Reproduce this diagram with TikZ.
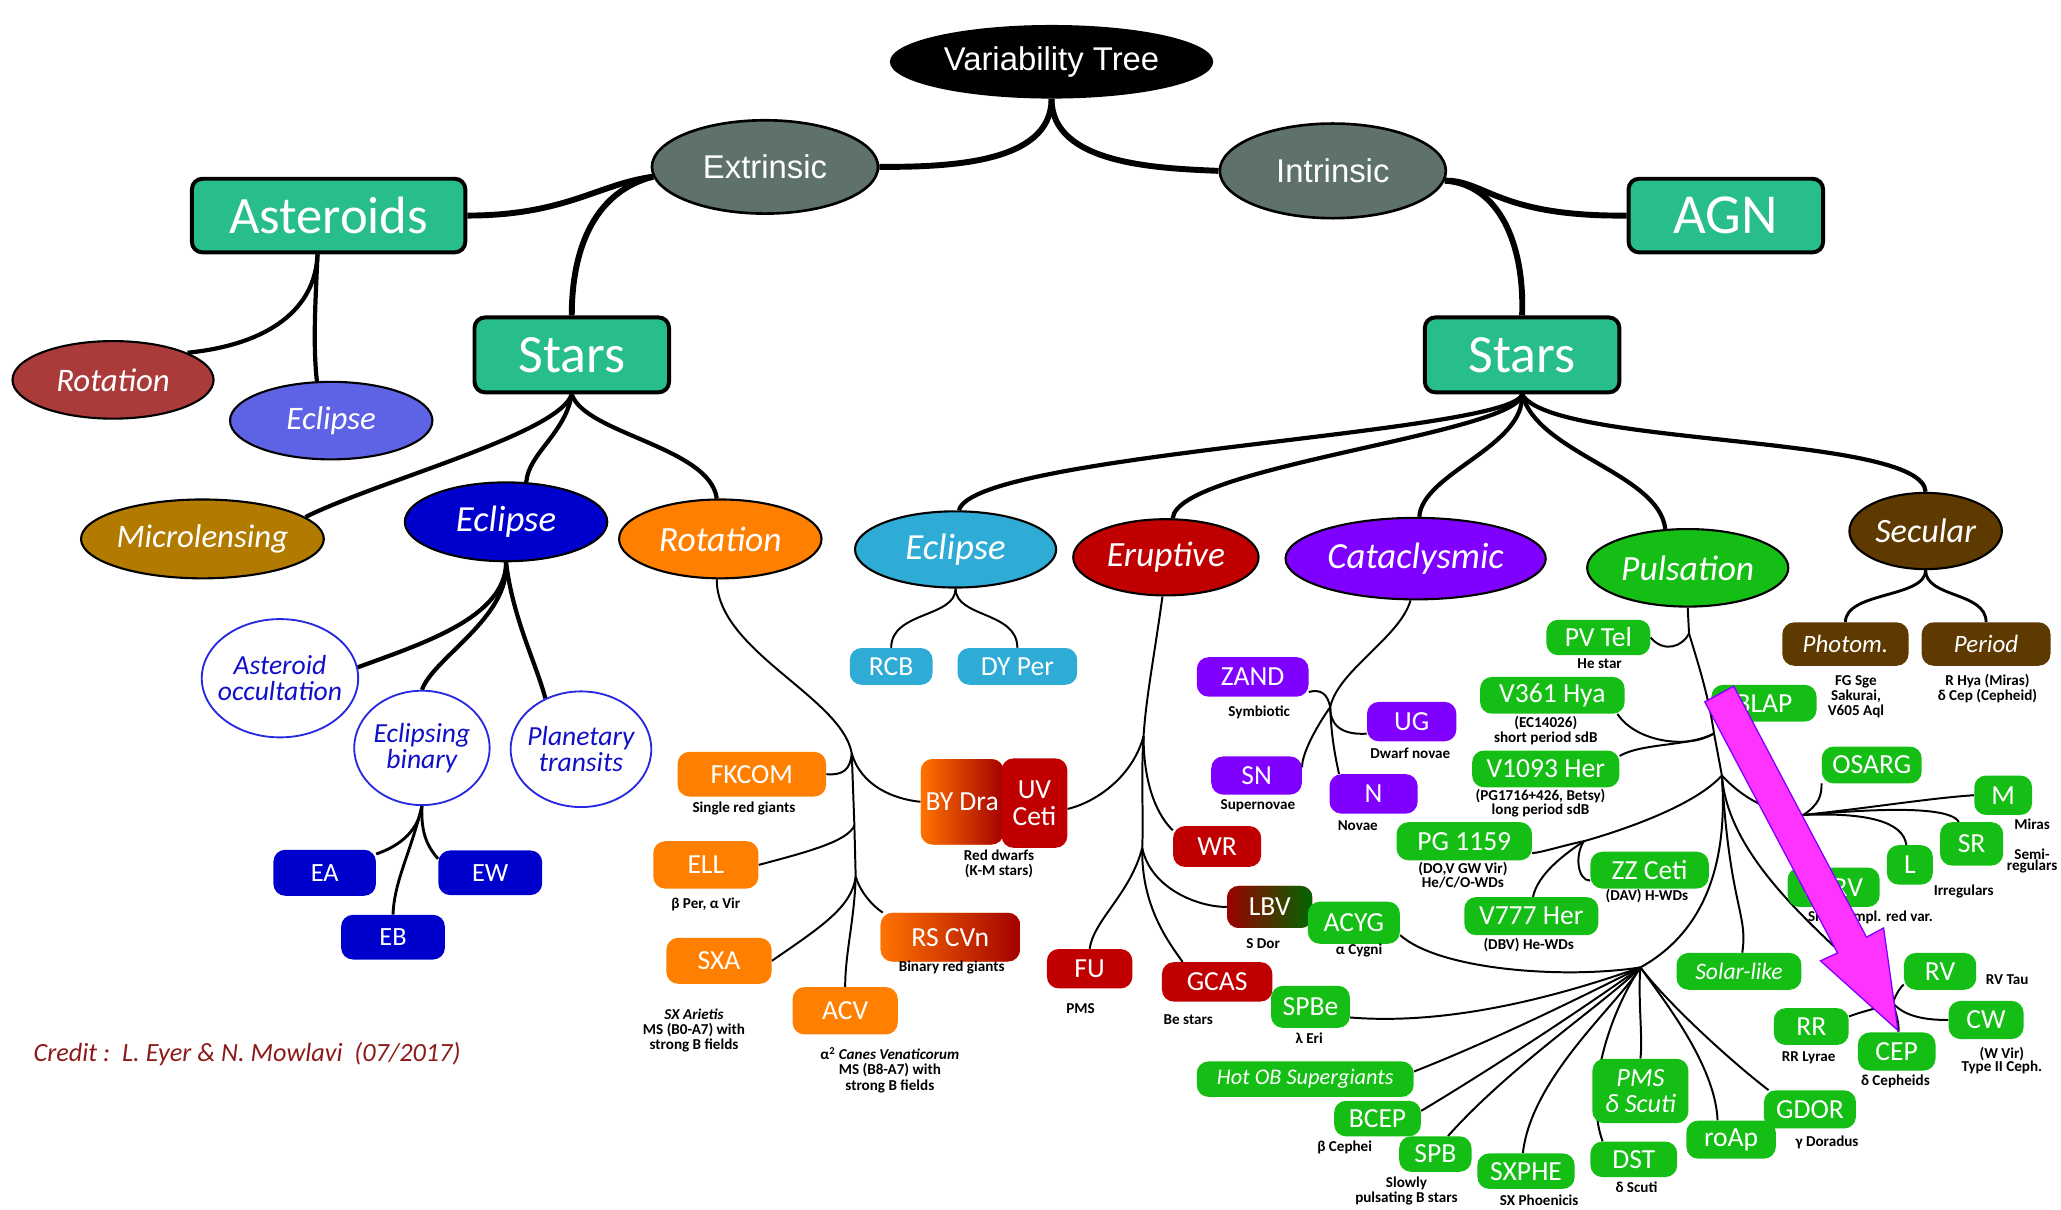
\documentclass[tikz,border=0pt]{standalone}
\usepackage{fontspec}
\setmainfont{Carlito}
\newfontfamily\headfont{Liberation Sans}
\usepackage{tikz}
\usetikzlibrary{shapes.geometric}
\pgfdeclarelayer{background}
\pgfsetlayers{background,main}

\definecolor{kindgray}{HTML}{5E716D}
\definecolor{groupteal}{HTML}{27BD8C}
\definecolor{astrot}{HTML}{AB3B3B}
\definecolor{astecl}{HTML}{5E62E4}
\definecolor{microl}{HTML}{B27B00}
\definecolor{eclblue}{HTML}{0000CC}
\definecolor{rotorange}{HTML}{FF8000}
\definecolor{eclcyan}{HTML}{2EACD6}
\definecolor{erured}{HTML}{C00000}
\definecolor{catpurple}{HTML}{8000FF}
\definecolor{pulgreen}{HTML}{14BE14}
\definecolor{secbrown}{HTML}{5E3A00}
\definecolor{occblue}{HTML}{2828E0}
\definecolor{occtext}{HTML}{1010C8}
\definecolor{arrowpink}{HTML}{FF33FF}
\definecolor{creditred}{HTML}{8B1A1A}

\tikzset{
  sz/.style 2 args={minimum width=#1pt,minimum height=#2pt},
  root/.style={ellipse,fill=black,text=white,inner sep=0pt,font=\headfont\fontsize{25}{25}\selectfont},
  kind/.style={ellipse,fill=kindgray,draw=black,line width=2pt,text=white,inner sep=0pt,font=\headfont\fontsize{25}{25}\selectfont},
  group/.style={rectangle,rounded corners=8pt,fill=groupteal,draw=black,line width=3pt,text=white,inner sep=0pt,font=\fontsize{40}{40}\selectfont},
  cls/.style={ellipse,fill=#1,draw=black,line width=1.6pt,text=white,inner sep=0pt,font=\itshape\fontsize{27}{27}\selectfont},
  occ/.style={ellipse,fill=white,draw=occblue,line width=1.4pt,text=occtext,inner sep=-8pt,align=center,font=\itshape\fontsize{21}{20}\selectfont},
  tag/.style={rectangle,rounded corners=9pt,fill=#1,text=white,inner sep=0pt,align=center,font=\fontsize{21}{20}\selectfont},
  note/.style={text=black,inner sep=0pt,align=center,font=\bfseries\fontsize{11.5}{11.5}\selectfont},
  credit/.style={text=creditred,inner sep=0pt,font=\itshape\fontsize{20}{20}\selectfont},
  trunk/.style={line width=4.5pt},
  bough/.style={line width=3.2pt},
  stem/.style={line width=2.2pt},
  twig/.style={line width=1.5pt},
}

\begin{document}
\begin{tikzpicture}[x=1pt,y=-1pt,line cap=round]
\useasboundingbox(0,0)rectangle(1568,920);
% top of the tree
\path(800,47)node[root,sz={246}{56}](vt){Variability Tree}
(582,127)node[kind,sz={172}{71}](ext){Extrinsic}
(1014,130)node[kind,sz={172}{72}](int){Intrinsic}
(250,164)node[group,sz={208}{56}](ast){Asteroids}
(435,270)node[group,sz={148}{57},font=\fontsize{41}{41}\selectfont](starsL){Stars}
(1313,164)node[group,sz={148}{56},font=\fontsize{43}{43}\selectfont](agn){AGN}
(1158,270)node[group,sz={148}{57},font=\fontsize{41}{41}\selectfont](starsR){Stars};
% classes
\path(86,289)node[cls=astrot,sz={153}{59},font=\itshape\fontsize{25}{25}\selectfont](rotA){Rotation}
(252,320)node[cls=astecl,sz={154}{59},font=\itshape\fontsize{25}{25}\selectfont](eclA){Eclipse}
(154,410)node[cls=microl,sz={183}{60},font=\itshape\fontsize{25}{25}\selectfont](micro){Microlensing}
(385,397)node[cls=eclblue,sz={154}{60},font=\itshape\fontsize{28}{28}\selectfont](eclB){Eclipse}
(548,410)node[cls=rotorange,sz={154}{60}](rotB){Rotation}
(727,418)node[cls=eclcyan,sz={153}{58},font=\itshape\fontsize{28}{28}\selectfont](eclC){Eclipse}
(887,424)node[cls=erured,sz={141}{58}](erup){Eruptive}
(1077,425)node[cls=catpurple,sz={198}{62},font=\itshape\fontsize{28}{28}\selectfont](cata){Cataclysmic}
(1284,432)node[cls=pulgreen,sz={153}{59}](puls){Pulsation}
(1465,404)node[cls=secbrown,sz={116}{58},font=\itshape\fontsize{26}{26}\selectfont](sec){Secular};
% eclipse circles
\path(213,516)node[occ,sz={119}{90}](aocc){Asteroid\\occultation}
(321,569)node[occ,sz={103}{87}](ebin){Eclipsing\\binary}
(442,570)node[occ,sz={107}{88}](ptran){Planetary\\transits};
\path(247,664)node[tag=eclblue,sz={78}{35},font=\fontsize{20}{20}\selectfont](ea){EA}
(373,664)node[tag=eclblue,sz={79}{34},font=\fontsize{20}{20}\selectfont](ew){EW}
(299,713)node[tag=eclblue,sz={79}{34},font=\fontsize{20}{20}\selectfont](eb){EB};
% rotation
\path(572,589)node[tag=rotorange,sz={113}{34}](fkcom){FKCOM}
(566,615)node[note](nfkcom){Single red giants}
(537,658)node[tag=rotorange,sz={80}{36}](ell){ELL}
(537,688)node[note](nell){β Per, α Vir}
(547,731)node[tag=rotorange,sz={80}{35}](sxa){SXA}
(528,784)node[note](nsxa){\textit{SX Arietis}\\MS (B0-A7) with\\strong B fields}
(643,769)node[tag=rotorange,sz={80}{36}](acv){ACV}
(677,814)node[note](nacv){α\textsuperscript{2} \textit{Canes Venaticorum}\\MS (B8-A7) with\\strong B fields}
(723,713)node[tag=rotorange,sz={106}{37},left color=rotorange!90!red,right color=erured!85!black](rscvn){RS CVn}
(724,736)node[note](nrscvn){Binary red giants}
(732,610)node[tag=rotorange,sz={63}{65},left color=rotorange!90!red,right color=erured!85!black](bydra){BY Dra}
(787,611)node[tag=erured,sz={50}{68}](uvceti){UV\\Ceti}
(760,657)node[note](nby){Red dwarfs\\(K-M stars)};
% eclipse and eruptive
\path(678,507)node[tag=eclcyan,sz={63}{28}](rcb){RCB}
(774,507)node[tag=eclcyan,sz={91}{28}](dyper){DY Per}
(926,644)node[tag=erured,sz={67}{31}](wr){WR}
(829,737)node[tag=erured,sz={65}{30}](fu){FU}
(822,767)node[note](nfu){PMS}
(926,747)node[tag=erured,sz={84}{30}](gcas){GCAS}
(904,776)node[note](ngcas){Be stars}
(966,690)node[tag=erured,sz={65}{32},left color=erured!80!black,right color=green!40!black](lbv){LBV}
(961,718)node[note](nlbv){S Dor};
% cataclysmic
\path(953,515)node[tag=catpurple,sz={85}{30}](zand){ZAND}
(958,542)node[note](nzand){Symbiotic}
(956,590)node[tag=catpurple,sz={69}{29}](sn){SN}
(957,613)node[note](nsn){Supernovae}
(1074,549)node[tag=catpurple,sz={68}{30}](ug){UG}
(1073,573)node[note](nug){Dwarf novae}
(1045,604)node[tag=catpurple,sz={67}{30}](nov){N}
(1033,628)node[note](nnov){Novae};
% pulsation
\path(1216,485)node[tag=pulgreen,sz={79}{27}](pvtel){PV Tel}
(1217,505)node[note](npvtel){He star}
(1181,529)node[tag=pulgreen,sz={110}{28}](vhya){V361 Hya}
(1176,556)node[note](nvhya){(EC14026)\\short period sdB}
(1176,585)node[tag=pulgreen,sz={112}{28}](vher){V1093 Her}
(1172,611)node[note,font=\bfseries\fontsize{11.5}{10}\selectfont](nvher){(PG1716+426, Betsy)\\long period sdB}
(1342,535)node[tag=pulgreen,sz={80}{28}](blap){BLAP}
(1424,582)node[tag=pulgreen,sz={76}{28}](osarg){OSARG}
(1524,605)node[tag=pulgreen,sz={44}{30}](mira){M}
(1546,627)node[note](nmira){Miras}
(1500,642)node[tag=pulgreen,sz={48}{33}](sr){SR}
(1546,655)node[note,font=\bfseries\fontsize{11.5}{9}\selectfont](nsr){Semi-\\regulars}
(1453,658)node[tag=pulgreen,sz={35}{30}](irr){L}
(1494,678)node[note](nirr){Irregulars}
(1395,675)node[tag=pulgreen,sz={70}{30}](sarv){SARV}
(1423,698)node[note](nsarv){Small ampl. red var.}
(1255,662)node[tag=pulgreen,sz={90}{28}](zzceti){ZZ Ceti}
(1253,682)node[note](nzzceti){(DAV) H-WDs}
(1114,640)node[tag=pulgreen,sz={103}{29}](pg){PG 1159}
(1113,666)node[note,font=\bfseries\fontsize{11.5}{10.5}\selectfont](npg){(DO,V GW Vir)\\He/C/O-WDs}
(1165,697)node[tag=pulgreen,sz={102}{29}](vsev){V777 Her}
(1163,719)node[note](nvsev){(DBV) He-WDs}
(1030,702)node[tag=pulgreen,sz={70}{32}](acyg){ACYG}
(1034,723)node[note](nacyg){α Cygni}
(997,766)node[tag=pulgreen,sz={60}{32}](spbe){SPBe}
(996,790)node[note](nspbe){λ Eri}
(993,821)node[tag=pulgreen,sz={165}{27},font=\itshape\fontsize{17}{17}\selectfont](hotob){Hot OB Supergiants}
(1048,851)node[tag=pulgreen,sz={66}{27}](bcep){BCEP}
(1023,873)node[note](nbcep){β Cephei}
(1092,878)node[tag=pulgreen,sz={55}{27}](spb){SPB}
(1070,906)node[note,font=\bfseries\fontsize{11.5}{8}\selectfont](nspb){Slowly\\pulsating B stars}
(1161,891)node[tag=pulgreen,sz={74}{27}](sxphe){SXPHE}
(1171,913)node[note](nsxphe){SX Phoenicis}
(1243,882)node[tag=pulgreen,sz={66}{27}](dst){DST}
(1245,903)node[note](ndst){δ Scuti}
(1248,830)node[tag=pulgreen,sz={73}{49},font=\itshape\fontsize{20}{20}\selectfont](pmsd){PMS\\δ Scuti}
(1317,867)node[tag=pulgreen,sz={68}{29}](roap){roAp}
(1377,844)node[tag=pulgreen,sz={70}{29}](gdor){GDOR}
(1390,869)node[note](ngdor){γ Doradus}
(1323,739)node[tag=pulgreen,sz={95}{28},font=\itshape\fontsize{18}{18}\selectfont](solar){Solar-like}
(1378,781)node[tag=pulgreen,sz={57}{28}](rr){RR}
(1376,805)node[note](nrr){RR Lyrae}
(1443,800)node[tag=pulgreen,sz={59}{29}](cep){CEP}
(1442,823)node[note](ncep){δ Cepheids}
(1476,739)node[tag=pulgreen,sz={55}{28}](rv){RV}
(1527,745)node[note](nrv){RV Tau}
(1511,776)node[tag=pulgreen,sz={57}{29}](cw){CW}
(1523,807)node[note,font=\bfseries\fontsize{11.5}{10}\selectfont](ncw){(W Vir)\\Type II Ceph.};
% secular
\path(1404,490)node[tag=secbrown,sz={96}{33},font=\itshape\fontsize{19}{19}\selectfont](photom){Photom.}
(1412,530)node[note](nphotom){FG Sge\\Sakurai,\\V605 Aql}
(1511,490)node[tag=secbrown,sz={98}{33},font=\itshape\fontsize{19}{19}\selectfont](period){Period}
(1512,524)node[note](nperiod){R Hya (Miras)\\δ Cep (Cepheid)};
\path(188,802)node[credit](credit){Credit :\ \ L. Eyer \& N. Mowlavi\ \ (07/2017)};
% junctions
\coordinate(jR1)at(648,573);\coordinate(jR2)at(650,628);\coordinate(jR3)at(651,667);
\coordinate(jE1)at(870,560);\coordinate(jE2)at(869,645);
\coordinate(jC)at(1012,538);
\coordinate(jP1)at(1285,482);\coordinate(jP3)at(1304,558);\coordinate(jP4)at(1310,590);
\coordinate(jZ)at(1205,640);\coordinate(jLPV)at(1372,620);\coordinate(jCep)at(1440,763);
\coordinate(jLow)at(1248,736);
\begin{pgfonlayer}{background}
\draw[trunk](vt.south)..controls(800,125)and(720,127)..(ext.east);
\draw[trunk](vt.south)..controls(800,125)and(880,128)..(int.west);
\draw[trunk](ext.185)..controls(455,140)and(430,164)..(ast.east);
\draw[trunk](ext.185)..controls(455,145)and(435,185)..(starsL.north);
\draw[trunk](int.-5)..controls(1130,137)and(1140,165)..(agn.west);
\draw[trunk](int.-5)..controls(1140,140)and(1160,185)..(starsR.north);
\draw[bough](ast.254)..controls(240,235)and(205,262)..(rotA.20);
\draw[bough](ast.254)..controls(240,230)and(238,262)..(eclA.110);
\draw[bough](starsL.south)..controls(425,330)and(290,365)..(micro.12);
\draw[bough](starsL.south)..controls(430,330)and(402,345)..(eclB.63);
\draw[bough](starsL.south)..controls(445,330)and(540,340)..(rotB.95);
\draw[bough](starsR.south)..controls(1150,330)and(740,345)..(eclC.85);
\draw[bough](starsR.south)..controls(1155,330)and(895,355)..(erup.80);
\draw[bough](starsR.south)..controls(1160,340)and(1082,360)..(cata.85);
\draw[bough](starsR.south)..controls(1170,345)and(1262,360)..(puls.120);
\draw[bough](starsR.south)..controls(1180,340)and(1463,330)..(sec.north);
\draw[bough](eclB.south)..controls(385,470)and(320,490)..(aocc.8);
\draw[bough](eclB.south)..controls(388,470)and(330,500)..(ebin.north);
\draw[bough](eclB.south)..controls(390,470)and(408,505)..(ptran.125);
\draw[stem](ebin.south)..controls(318,635)and(300,645)..(ea.20);
\draw[stem](ebin.south)..controls(312,650)and(300,670)..(eb.north);
\draw[stem](ebin.south)..controls(320,635)and(326,645)..(ew.165);
\draw[stem](sec.south)..controls(1465,455)and(1404,450)..(photom.north);
\draw[stem](sec.south)..controls(1465,455)and(1511,450)..(period.north);
\draw[twig](eclC.south)..controls(727,470)and(678,465)..(rcb.north);
\draw[twig](eclC.south)..controls(727,470)and(774,465)..(dyper.north);
% rotation branch
\draw[twig](rotB.265)..controls(545,495)and(640,530)..(jR1)--(jR2)--(jR3);
\draw[twig](fkcom.east)..controls(642,590)and(647,585)..(jR1);
\draw[twig](jR1)..controls(655,598)and(680,608)..(bydra.west);
\draw[twig](ell.east)..controls(615,648)and(645,640)..(jR2);
\draw[twig](sxa.east)..controls(625,705)and(648,690)..(jR3);
\draw[twig](jR3)..controls(655,680)and(665,690)..(rscvn.160);
\draw[twig](jR3)..controls(650,700)and(643,725)..(acv.north);
% eruptive branch
\draw[twig](erup.265)..controls(878,500)and(872,530)..(jE1)..controls(868,590)and(870,620)..(jE2);
\draw[twig](jE1)..controls(862,590)and(835,610)..(uvceti.-10);
\draw[twig](jE1)..controls(870,600)and(882,622)..(wr.160);
\draw[twig](jE2)..controls(875,675)and(910,690)..(lbv.west);
\draw[twig](jE2)..controls(868,690)and(890,718)..(gcas.150);
\draw[twig](jE2)..controls(860,680)and(832,700)..(fu.north);
% cataclysmic branch
\draw[twig](cata.263)..controls(1065,485)and(1018,510)..(jC);
\draw[twig](zand.-15)..controls(1005,524)and(1010,528)..(jC);
\draw[twig](jC)..controls(1000,555)and(990,575)..(sn.10);
\draw[twig](jC)..controls(1012,555)and(1025,559)..(ug.195);
\draw[twig](jC)..controls(1013,565)and(1017,580)..(nov.150);
% pulsation branch
\draw[twig](puls.-90)--(jP1)..controls(1292,505)and(1300,530)..(jP3)--(jP4);
\draw[twig](pvtel.east)..controls(1266,497)and(1280,492)..(jP1);
\draw[twig](vhya.-16)..controls(1245,565)and(1285,570)..(jP3);
\draw[twig](vher.10)..controls(1250,565)and(1285,568)..(jP3);
\draw[twig](jP4)..controls(1290,612)and(1240,630)..(jZ)..controls(1190,643)and(1175,648)..(pg.-10);
\draw[twig](jZ)..controls(1198,650)and(1200,670)..(zzceti.190);
\draw[twig](jZ)..controls(1190,650)and(1170,665)..(vsev.85);
\draw[twig](jP4)..controls(1330,612)and(1355,620)..(jLPV);
\draw[twig](jLPV)..controls(1384,612)and(1386,605)..(osarg.200);
\draw[twig](jLPV)..controls(1420,615)and(1470,607)..(mira.west);
\draw[twig](jLPV)..controls(1420,616)and(1482,612)..(sr.120);
\draw[twig](jLPV)..controls(1420,618)and(1448,625)..(irr.100);
\draw[twig](jP4)..controls(1316,690)and(1330,695)..(solar.80);
\draw[twig](jP4)..controls(1315,660)and(1400,720)..(jCep);
\draw[twig](jCep)..controls(1443,755)and(1446,751)..(rv.200);
\draw[twig](jCep)..controls(1450,775)and(1470,776)..(cw.west);
\draw[twig](jCep)..controls(1443,772)and(1445,780)..(cep.85);
\draw[twig](jCep)..controls(1425,768)and(1415,770)..(rr.15);
\draw[twig](jP4)..controls(1315,660)and(1295,710)..(jLow);
\draw[twig](acyg.-15)..controls(1095,738)and(1190,745)..(jLow);
\draw[twig](spbe.-15)..controls(1100,780)and(1180,760)..(jLow);
\draw[twig](hotob.4)..controls(1140,790)and(1210,755)..(jLow);
\draw[twig](bcep.10)..controls(1140,810)and(1215,760)..(jLow);
\draw[twig](spb.55)..controls(1150,810)and(1225,760)..(jLow);
\draw[twig](sxphe.100)..controls(1165,820)and(1230,765)..(jLow);
\draw[twig](dst.150)..controls(1205,830)and(1225,770)..(jLow);
\draw[twig](pmsd.north)..controls(1250,790)and(1246,760)..(jLow);
\draw[twig](roap.125)..controls(1305,810)and(1265,760)..(jLow);
\draw[twig](gdor.155)..controls(1320,810)and(1270,765)..(jLow);
\end{pgfonlayer}
% pointer arrow
\draw[fill=arrowpink,draw=catpurple,line width=1pt,line join=miter](1297,534)--(1319,522)--(1420,713)--(1433,706)--(1444,784)--(1385,731)--(1398,725)--cycle;
\end{tikzpicture}
\end{document}
